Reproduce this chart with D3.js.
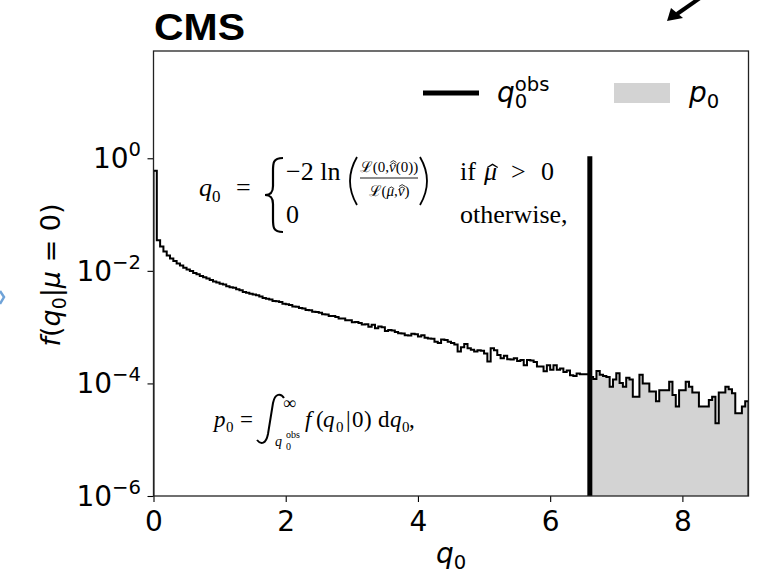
<!DOCTYPE html>
<html><head><meta charset="utf-8">
<script src="https://cdn.jsdelivr.net/npm/d3@7"></script>
<style>body{margin:0;background:#fff}svg{display:block}</style>
</head><body>
<svg id="c" width="769" height="577"></svg>
<script>
// ---------------- data ----------------
const binStart = 0;
const binWidth = 0.05;
// f(q0|mu=0) per bin (bins of 0.05 from q0 = 0 to 9)
const binValues = [
  0.6, 0.035, 0.027, 0.022, 0.0188, 0.0166, 0.0149, 0.0135, 0.0124, 0.0114,
  0.0106, 0.0099, 0.0092, 0.0087, 0.0081, 0.0077, 0.0073, 0.0069, 0.0065, 0.0062,
  0.0059, 0.0057, 0.0053, 0.0051, 0.0050, 0.0047, 0.0045, 0.0042, 0.0041, 0.0039,
  0.0038, 0.0037, 0.0035, 0.0033, 0.0032, 0.0031, 0.0029, 0.00288, 0.0028, 0.0026,
  0.00255, 0.00248, 0.00232, 0.00230, 0.00218, 0.00214, 0.00202, 0.00199, 0.00188, 0.00186,
  0.00180, 0.00169, 0.00168, 0.00158, 0.00157, 0.00152, 0.00142, 0.00143, 0.00132, 0.00133,
  0.00122, 0.00124, 0.00118, 0.00111, 0.00113, 0.00102, 0.00110, 0.00096, 0.00103,
  1.0e-3, 8.5e-4, 8.9e-4, 8.7e-4, 8.2e-4, 7.8e-4, 7.7e-4, 7.2e-4, 7.1e-4, 7.6e-4, 7.5e-4,
  6.8e-4, 7.2e-4, 6.5e-4, 6.3e-4, 6.2e-4, 5.5e-4, 5.2e-4, 6.0e-4, 5.9e-4, 5.5e-4,
  5.2e-4, 4.9e-4, 3.7e-4, 4.4e-4, 5.0e-4, 4.2e-4, 3.95e-4, 3.7e-4, 3.9e-4, 3.8e-4,
  3.4e-4, 2.45e-4, 4.2e-4, 3.9e-4, 3.2e-4, 2.8e-4, 3.1e-4, 2.7e-4, 2.65e-4, 2.8e-4,
  2.5e-4, 2.6e-4, 2.1e-4, 2.6e-4, 2.55e-4, 2.4e-4, 2.0e-4, 2.0e-4, 1.65e-4, 2.1e-4,
  1.75e-4, 2.1e-4, 1.75e-4, 1.85e-4, 1.6e-4, 1.7e-4, 1.4e-4, 1.35e-4, 1.5e-4, 1.45e-4,
  1.45e-4, 1.45e-4, 1.3e-4, 1.2e-4, 1.66e-4, 1.42e-4, 1.35e-4, 1.3e-4, 8.7e-5, 1.18e-4,
  1.51e-4, 1.02e-4, 8.7e-5, 1.26e-4, 1.18e-4, 5.8e-5, 5.8e-5, 1.42e-4, 1.0e-4, 1.0e-4,
  7.2e-5, 7.2e-5, 4.8e-5, 7.6e-5, 7.6e-5, 7.6e-5, 1.07e-4, 6.2e-5, 3.9e-5, 7.6e-5,
  7.6e-5, 1.07e-4, 8.7e-5, 6.9e-5, 6.9e-5, 3.9e-5, 3.9e-5, 3.9e-5, 5.1e-5, 5.8e-5,
  1.96e-5, 6.9e-5, 6.9e-5, 8.7e-5, 7.9e-5, 6.7e-5, 2.95e-5, 2.95e-5, 3.9e-5, 4.8e-5
];
const qObs = 6.6;
const qObsTop = 1;
const xDomain = [0, 9];
const yDomain = [1e-6, 80.5];
const xTicks = [0, 2, 4, 6, 8];
const yTickExponents = [0, -2, -4, -6];

// ---------------- layout ----------------
const svg = d3.select("#c");
const L = 153.5, R = 748.5, T = 51, B = 496;
const x = d3.scaleLinear().domain(xDomain).range([L, R]);
const y = d3.scaleLog().domain(yDomain).range([B, T]);
const SANS = "DejaVu Sans, sans-serif";
const SERIF = "Liberation Serif, Times New Roman, serif";

svg.append("defs").append("clipPath").attr("id","clip")
  .append("rect").attr("x",L).attr("y",T).attr("width",R-L).attr("height",B-T);

const bins = binValues.map((v,i)=>({q: binStart + i*binWidth, v}));
const lastQ = binStart + binValues.length*binWidth;
const g = svg.append("g").attr("clip-path","url(#clip)");

// shaded p0 area
const tail = bins.filter(d => d.q >= qObs - 1e-9);
tail.push({q:lastQ, v: binValues[binValues.length-1]});
g.append("path")
  .attr("d", d3.area().curve(d3.curveStepAfter).x(d=>x(d.q)).y0(y(yDomain[0])).y1(d=>y(d.v))(tail))
  .attr("fill","#d3d3d3");

// histogram outline
const stepPts = [{q:binStart, v:yDomain[0]}, ...bins, {q:lastQ, v:binValues[binValues.length-1]}, {q:lastQ, v:yDomain[0]}];
g.append("path")
  .attr("d", d3.line().curve(d3.curveStepAfter).x(d=>x(d.q)).y(d=>y(d.v))(stepPts))
  .attr("fill","none").attr("stroke","#000").attr("stroke-width",2);

// observed line
g.append("line").attr("x1",x(qObs)).attr("x2",x(qObs)).attr("y1",y(qObsTop)-2).attr("y2",y(yDomain[0]))
  .attr("stroke","#000").attr("stroke-width",5);

// axes
const xAxis = d3.axisBottom(x).tickValues(xTicks).tickSize(6).tickPadding(9).tickFormat(d3.format("d"));
const gx = svg.append("g").attr("transform",`translate(0,${B})`).call(xAxis);
gx.select(".domain").remove();
gx.selectAll("line").attr("stroke","#000").attr("stroke-width",1.1);
gx.selectAll("text").attr("font-family",SANS).attr("font-size",28).attr("fill","#000");

const yAxis = d3.axisLeft(y).tickValues(yTickExponents.map(e=>Math.pow(10,e))).tickSize(6).tickFormat("");
const gy = svg.append("g").attr("transform",`translate(${L},0)`).call(yAxis);
gy.select(".domain").remove();
gy.selectAll("line").attr("stroke","#000").attr("stroke-width",1.1);
yTickExponents.forEach(e=>{
  const tt = svg.append("text").attr("x",141).attr("y",y(Math.pow(10,e))+10)
    .attr("text-anchor","end").attr("font-family",SANS).attr("font-size",28).attr("fill","#000");
  tt.append("tspan").text("10");
  tt.append("tspan").attr("font-size",19.6).attr("dy",-12).text(e<0 ? "\u2212"+(-e) : String(e));
});

// spines
svg.append("rect").attr("x",L).attr("y",T).attr("width",R-L).attr("height",B-T)
  .attr("fill","none").attr("stroke","#222").attr("stroke-width",1.3);

// axis labels
const xl = svg.append("text").attr("x",451).attr("y",563).attr("text-anchor","middle")
  .attr("font-family",SANS).attr("font-size",28);
xl.append("tspan").attr("font-style","italic").text("q");
xl.append("tspan").attr("font-size",19.6).attr("dy",6).text("0");

const yl = svg.append("text").attr("transform","translate(60,275) rotate(-90)").attr("text-anchor","middle")
  .attr("font-family",SANS).attr("font-size",27);
yl.append("tspan").attr("font-style","italic").text("f");
yl.append("tspan").text("(");
yl.append("tspan").attr("font-style","italic").text("q");
yl.append("tspan").attr("font-size",19).attr("dy",6).text("0");
yl.append("tspan").attr("dy",-6).text("|");
yl.append("tspan").attr("font-style","italic").text("\u03bc");
yl.append("tspan").text(" = 0)");

// title
svg.append("text").attr("x",154).attr("y",40).attr("font-family","Liberation Sans, Arial, sans-serif")
  .attr("font-weight","bold").attr("font-size",36).attr("textLength",91).attr("lengthAdjust","spacingAndGlyphs").text("CMS");

// legend
svg.append("line").attr("x1",423).attr("x2",479).attr("y1",93).attr("y2",93).attr("stroke","#000").attr("stroke-width",5);
const lq = svg.append("text").attr("x",497).attr("y",102).attr("font-family",SANS).attr("font-size",28);
lq.append("tspan").attr("font-style","italic").text("q");
lq.append("tspan").attr("font-size",19.6).attr("dy",6).text("0");
lq.append("tspan").attr("font-size",19.6).attr("dx",-12.5).attr("dy",-17).text("obs");
svg.append("rect").attr("x",614).attr("y",83).attr("width",56).attr("height",20).attr("fill","#d3d3d3");
const lp = svg.append("text").attr("x",689).attr("y",102).attr("font-family",SANS).attr("font-size",28);
lp.append("tspan").attr("font-style","italic").text("p");
lp.append("tspan").attr("font-size",19.6).attr("dy",6).text("0");

// ---------------- formulas ----------------
function t(xx, yy, size, str, italic, anchor){
  return svg.append("text").attr("x",xx).attr("y",yy).attr("font-family",SERIF).attr("font-size",size)
    .attr("font-style", italic ? "italic" : "normal").attr("text-anchor", anchor || "start").text(str);
}
function hat(sel, idx, n, size, shift){
  const node = sel.node();
  const ext = node.getExtentOfChar(idx);
  const cx = ext.x + ext.width/2 + (shift||0);
  const top = ext.y + ext.height*0.36;
  const w = size*0.2, h = size*0.12;
  for(let k=0;k<n;k++){
    const yy = top - k*h*1.3;
    svg.append("path").attr("d",`M${cx-w},${yy} L${cx},${yy-h} L${cx+w},${yy}`)
      .attr("fill","none").attr("stroke","#000").attr("stroke-width",Math.max(0.8,size*0.05));
  }
}
// formula 1
t(199,196,26,"q",true); t(212,202,17,"0"); t(236,196,26,"=");
svg.append("path").attr("d","M283,158 C273,158 273,163 273,171 L273,186 C273,192 271,195 265,195 C271,195 273,198 273,204 L273,219 C273,227 273,232 283,232")
  .attr("fill","none").attr("stroke","#000").attr("stroke-width",2.2);
t(286,180,26,"\u22122 ln");
svg.append("path").attr("d","M357,157 Q343,181 357,205").attr("fill","none").attr("stroke","#000").attr("stroke-width",1.8);
svg.append("path").attr("d","M420,157 Q434,181 420,205").attr("fill","none").attr("stroke","#000").attr("stroke-width",1.8);
const num = svg.append("text").attr("x",389).attr("y",172).attr("text-anchor","middle").attr("font-family",SERIF).attr("font-size",15);
num.append("tspan").text("\u2112(0,");
num.append("tspan").attr("font-style","italic").text("\u03bd");
num.append("tspan").text("(0))");
hat(num, 4, 2, 15, 1);
svg.append("line").attr("x1",360).attr("x2",418).attr("y1",178).attr("y2",178).attr("stroke","#000").attr("stroke-width",0.9);
const den = svg.append("text").attr("x",389).attr("y",196).attr("text-anchor","middle").attr("font-family",SERIF).attr("font-size",15);
den.append("tspan").text("\u2112(");
den.append("tspan").attr("font-style","italic").text("\u03bc");
den.append("tspan").text(",");
den.append("tspan").attr("font-style","italic").text("\u03bd");
den.append("tspan").text(")");
hat(den, 2, 1, 15, 1);
hat(den, 4, 2, 15, 1);
t(460,180,26,"if");
const mu1 = t(484,180,26,"\u03bc",true);
hat(mu1, 0, 1, 26, 2);
t(511,180,26,">"); t(541,180,26,"0");
t(286,223,26,"0"); t(460,223,26,"otherwise,");

// formula 2
t(214,427,23,"p",true); t(226,432,15,"0"); t(240,427,23,"=");
svg.append("path").attr("d","M284,398 C281,393 275,393 273,403 L268,434 C266,444 261,445 257,440")
  .attr("fill","none").attr("stroke","#000").attr("stroke-width",2);
t(283,409,18,"\u221e");
t(275,446,14,"q",true); t(286,450,10,"0"); t(286,438,10,"obs");
t(305,427,23,"f",true); t(316,427,23,"("); t(323,427,23,"q",true); t(336,432,15,"0");
t(346,427,23,"|"); t(352,427,23,"0"); t(364,427,23,")");
t(378,427,23,"d"); t(390,427,23,"q",true); t(402,432,15,"0"); t(409,427,23,",");

// cropped neighbour artefacts
svg.append("path").attr("d","M700,-2 L677,14").attr("stroke","#000").attr("stroke-width",4);
svg.append("path").attr("d","M667,21 L671,8 L683,18 Z").attr("fill","#000");
svg.append("path").attr("d","M0,291 L4,297 L0,304").attr("fill","none").attr("stroke","#6fa3d8").attr("stroke-width",2.5);
</script>
</body></html>
